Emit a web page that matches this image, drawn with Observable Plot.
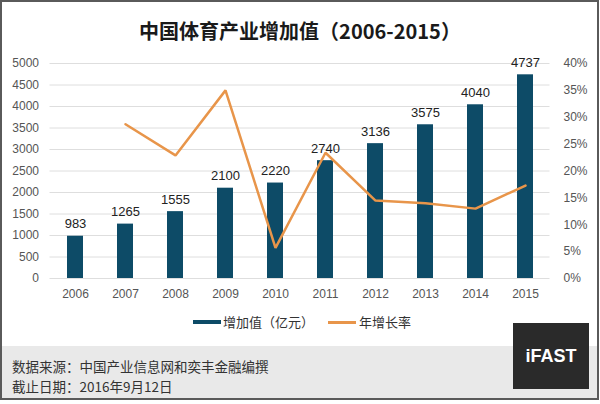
<!DOCTYPE html>
<html>
<head>
<meta charset="utf-8">
<script src="https://cdn.jsdelivr.net/npm/d3@7"></script>
<script src="https://cdn.jsdelivr.net/npm/@observablehq/plot@0.6"></script>
<style>
  html, body { margin: 0; padding: 0; background: #fff; }
  #wrap { position: relative; width: 600px; height: 404px; overflow: hidden; background: #fff;
          font-family: "Liberation Sans", "Noto Sans CJK SC", sans-serif; }
  #frame { position: absolute; left: 0; top: 0; width: 599px; height: 400px; box-sizing: border-box;
           border: 2px solid #5a5a5a; }
  #band { position: absolute; left: 2px; top: 346px; width: 595px; height: 52px; background: #e9e9e9; }
  #chart { position: absolute; left: 0; top: 0; }
  #chart svg, #chart svg text { font-family: "Liberation Sans", Arial, sans-serif; }
  #title { position: absolute; left: 0; width: 600px; top: 17px; text-align: center;
           font-family: "Noto Sans CJK SC", sans-serif; font-weight: bold; font-size: 20px;
           line-height: 28px; color: #1a1a1a; }
  .leg { position: absolute; font-family: "Noto Sans CJK SC", sans-serif; font-size: 13px; color: #333; line-height: 16px; }
  .sw { position: absolute; }
  .src { position: absolute; left: 12px; font-family: "Noto Sans CJK SC", sans-serif; font-size: 13.5px;
         color: #333; line-height: 19px; white-space: nowrap; }
  #logo { position: absolute; left: 513px; top: 323px; width: 76px; height: 66px; background: #2a2a2a;
          color: #fff; font-family: "Liberation Sans", sans-serif; font-weight: bold; font-size: 18px;
          line-height: 66px; text-align: center; }
</style>
</head>
<body>
<div id="wrap">
  <div id="band"></div>
  <div id="chart"></div>
  <div id="title"></div>
  <div class="sw" style="left:193px; top:320px; width:28px; height:4px; background:#0d4b67;"></div>
  <div class="leg" id="leg1" style="left:223px; top:314px;"></div>
  <div class="sw" style="left:328px; top:321px; width:28px; height:2.5px; background:#e8954a;"></div>
  <div class="leg" id="leg2" style="left:359px; top:314px;"></div>
  <div class="src" id="src1" style="top:357px;"></div>
  <div class="src" id="src2" style="top:377px;"></div>
  <div id="logo">iFAST</div>
  <div id="frame"></div>
</div>
<script>
// ---- data ----
const years = ["2006","2007","2008","2009","2010","2011","2012","2013","2014","2015"];
const values = [983, 1265, 1555, 2100, 2220, 2740, 3136, 3575, 4040, 4737];
const rateYears = ["2007","2008","2009","2010","2011","2012","2013","2014","2015"];
const rates = [28.7, 22.9, 35.0, 5.7, 23.4, 14.5, 14.0, 13.0, 17.3];
const leftTicks = [0, 500, 1000, 1500, 2000, 2500, 3000, 3500, 4000, 4500, 5000];
const rightTicks = [0, 5, 10, 15, 20, 25, 30, 35, 40];
const titleText = "中国体育产业增加值（2006-2015）";
const seriesNames = ["增加值（亿元）", "年增长率"];
const sourceLines = ["数据来源：中国产业信息网和奕丰金融编撰", "截止日期：2016年9月12日"];

const maxValue = 5000, maxRate = 40;
const rateToY = p => p / maxRate * maxValue;

const barData = years.map((y, i) => ({year: y, value: values[i]}));
const lineData = rateYears.map((y, i) => ({year: y, rate: rates[i]}));

document.getElementById("title").textContent = titleText;
document.getElementById("leg1").textContent = seriesNames[0];
document.getElementById("leg2").textContent = seriesNames[1];
document.getElementById("src1").textContent = sourceLines[0];
document.getElementById("src2").textContent = sourceLines[1];

const barColor = "#0d4b67", lineColor = "#e8954a";

const chart = Plot.plot({
  width: 600,
  height: 310,
  marginTop: 63,
  marginBottom: 32,
  marginLeft: 49.5,
  marginRight: 50.5,
  style: {background: "transparent", fontFamily: "'Liberation Sans', Arial, sans-serif"},
  x: {domain: years, paddingInner: 0.68, paddingOuter: 0.34, axis: null},
  y: {domain: [0, maxValue], axis: null},
  marks: [
    Plot.gridY(leftTicks, {stroke: "#dedede", strokeOpacity: 1, strokeWidth: 1}),
    Plot.axisY(leftTicks, {anchor: "left", tickSize: 0, tickPadding: 11, fontSize: 12, fill: "#555", label: null,
      tickFormat: d => String(d)}),
    Plot.axisY(rightTicks.map(rateToY), {anchor: "right", tickSize: 0, tickPadding: 13.5, fontSize: 12, fill: "#555",
      label: null, tickFormat: d => Math.round(d / maxValue * maxRate) + "%"}),
    Plot.axisX({tickSize: 0, tickPadding: 11, fontSize: 12, fill: "#555", label: null}),
    Plot.barY(barData, {x: "year", y: "value", fill: barColor}),
    Plot.text(barData, {x: "year", y: "value", text: d => String(d.value), dy: -12, fontSize: 13, fill: "#222"}),
    Plot.line(lineData, {x: "year", y: d => rateToY(d.rate), stroke: lineColor, strokeWidth: 2.5, strokeLinejoin: "miter"})
  ]
});
document.getElementById("chart").appendChild(chart);
</script>
</body>
</html>
